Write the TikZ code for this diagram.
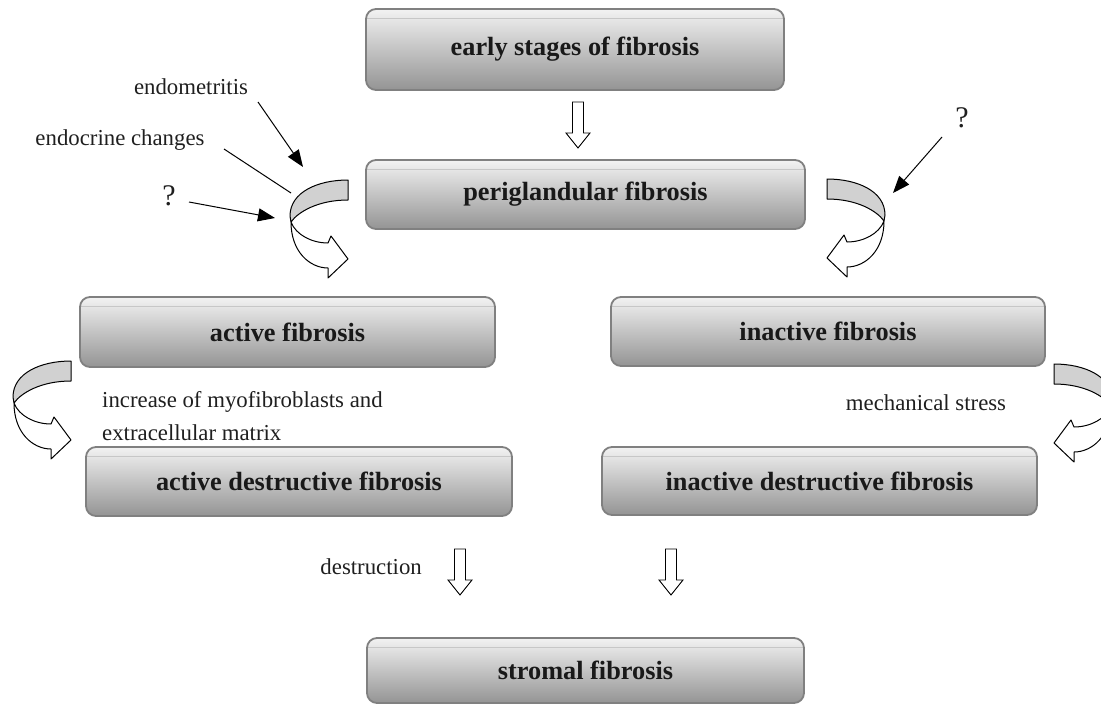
\documentclass[tikz,border=0pt]{standalone}
\usepackage{fontspec}
\setmainfont{Liberation Serif}
\usetikzlibrary{arrows.meta}

\tikzset{
  stage/.style={rounded corners=10pt, draw=black!50, line width=1.8pt,
    top color=black!5, bottom color=black!42, text=black!90, inner sep=0pt,
    font=\fontsize{26.3}{30}\selectfont\bfseries,
    path picture={\draw[black!22, line width=1pt]
      ([yshift=-9pt]path picture bounding box.north west) --
      ([yshift=-9pt]path picture bounding box.north east);}},
  note/.style={font=\fontsize{22.8}{33}\selectfont, inner sep=0pt, text=black!88},
  query/.style={font=\fontsize{30}{33}\selectfont, inner sep=0pt, text=black!88},
  pointer/.style={line width=1pt, -{Triangle[length=17pt,width=13pt]}},
  twist/.pic={
    \draw[line width=1pt, fill=black!18, line join=round]
      (0,0) .. controls (-30,0) and (-58,12) .. (-58,36) -- (-57,42)
      .. controls (-50,32) and (-30,20) .. (0,20) -- cycle;
    \draw[line width=1pt, fill=white, line join=round]
      (-57,42) .. controls (-57,72) and (-38,88) .. (-20,88) -- (-20,98)
      -- (0,79) -- (-17,56) -- (-20,63)
      .. controls (-36,63) and (-52,55) .. (-57,42) -- cycle;
  },
  blockdown/.pic={
    \draw[line width=0.9pt, fill=white] (-5.5,0) -- (5.5,0) -- (5.5,31)
      -- (12,31) -- (0,46) -- (-12,31) -- (-5.5,31) -- cycle;
  }
}

\begin{document}
\begin{tikzpicture}[x=1pt, y=-1pt]

    \useasboundingbox (0,0) rectangle (1101,704);

    % nodes (stages)
    \node[stage, minimum width=418pt, minimum height=81pt] (early) at (575,49.5) {early stages of fibrosis};
    \node[stage, minimum width=439pt, minimum height=69pt] (peri) at (585.5,194.5) {periglandular fibrosis};
    \node[stage, minimum width=415pt, minimum height=70pt] (active) at (287.5,332) {active fibrosis};
    \node[stage, minimum width=434pt, minimum height=69pt] (inactive) at (828,331.5) {inactive fibrosis};
    \node[stage, minimum width=426pt, minimum height=69pt] (actdestr) at (299,481.5) {active destructive fibrosis};
    \node[stage, minimum width=435pt, minimum height=68pt] (inactdestr) at (819.5,481) {inactive destructive fibrosis};
    \node[stage, minimum width=437pt, minimum height=65pt] (stromal) at (585.5,670.5) {stromal fibrosis};

    % labels
    \node[note] (endometritis) at (191,87) {endometritis};
    \node[note] (endocrine) at (120,140) {endocrine changes};
    \node[query] (qleft) at (169,196) {?};
    \node[query] (qright) at (962,118) {?};
    \node[note, anchor=west, align=left] (increase) at (102,416) {increase of myofibroblasts and\\extracellular matrix};
    \node[note] (mechanical) at (926,403) {mechanical stress};
    \node[note, anchor=east] (destruction) at (422,567) {destruction};

    % block arrows
    \pic at (578,102) {blockdown}; % early -> peri
    \pic at (460,549) {blockdown}; % actdestr -> stromal
    \pic at (671,549) {blockdown}; % inactdestr -> stromal

    % curved arrows
    \pic at (348,180) {twist}; % peri -> active
    \pic[xscale=-1] at (827,179) {twist}; % peri -> inactive
    \pic at (71,361) {twist}; % active -> actdestr
    \pic[xscale=-1] at (1054,364) {twist}; % inactive -> inactdestr

    % edges
    \coordinate (emTail) at (258,102);
    \coordinate (emTip) at (303,167);
    \coordinate (ecTail) at (224,149);
    \coordinate (ecEnd) at (291,193);
    \coordinate (qlTail) at (189,202);
    \coordinate (qlTip) at (275,218);
    \coordinate (qrTail) at (942,137);
    \coordinate (qrTip) at (893,193);
    \draw[pointer] (emTail) -- (emTip); % endometritis -> curve
    \draw[line width=1pt] (ecTail) -- (ecEnd); % endocrine changes -- curve
    \draw[pointer] (qlTail) -- (qlTip); % ? -> curve
    \draw[pointer] (qrTail) -- (qrTip); % ? -> curve

\end{tikzpicture}
\end{document}
